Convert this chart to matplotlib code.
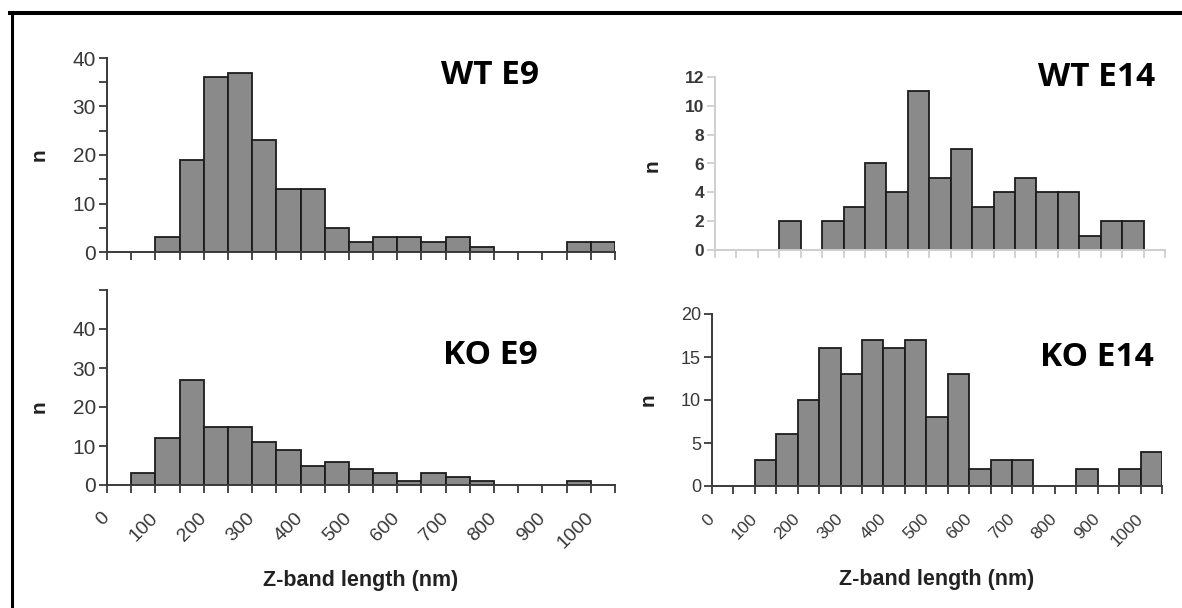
import matplotlib
matplotlib.use("Agg")
import matplotlib.pyplot as plt
from matplotlib.lines import Line2D
from matplotlib.ticker import FixedLocator

# ---------------- data ----------------
bin_width = 50
bin_left = [0, 50, 100, 150, 200, 250, 300, 350, 400, 450, 500,
            550, 600, 650, 700, 750, 800, 850, 900, 950, 1000]
wt_e9 = [0, 0, 3, 19, 36, 37, 23, 13, 13, 5, 2, 3, 3, 2, 3, 1, 0, 0, 0, 2, 2]
wt_e14 = [0, 0, 0, 2, 0, 2, 3, 6, 4, 11, 5, 7, 3, 4, 5, 4, 4, 1, 2, 2, 0]
ko_e9 = [0, 3, 12, 27, 15, 15, 11, 9, 5, 6, 4, 3, 1, 3, 2, 1, 0, 0, 0, 1, 0]
ko_e14 = [0, 0, 3, 6, 10, 16, 13, 17, 16, 17, 8, 13, 2, 3, 3, 0, 0, 2, 0, 2, 4]

x_label_pos = [0, 100, 200, 300, 400, 500, 600, 700, 800, 900, 1000]
x_labels = ["0", "100", "200", "300", "400", "500", "600", "700", "800", "900", "1000"]
x_minor_pos = [50, 150, 250, 350, 450, 550, 650, 750, 850, 950, 1050]

titles = ["WT E9", "WT E14", "KO E9", "KO E14"]
xlabel = "Z-band length (nm)"
ylabel = "n"

W, H = 1182, 608
fig = plt.figure(figsize=(W / 100, H / 100), dpi=100)
fig.patch.set_facecolor("white")


def px_axes(x0, x1, y_top, y_bot):
    return fig.add_axes([x0 / W, 1 - y_bot / H, (x1 - x0) / W, (y_bot - y_top) / H])


BAR_FACE = "#8a8a8a"
BAR_EDGE = "#1c1c1c"
FAM = ["Liberation Sans", "DejaVu Sans"]


def draw(ax, values, ymax, ymajor, ylabels, yminor, axcol, ytick_fs, xtick_fs,
         tick_bold, show_xlabels, n_y, xlab_pad=13):
    lefts = [b for b, v in zip(bin_left, values) if v > 0]
    hts = [v for v in values if v > 0]
    ax.bar(lefts, hts, width=bin_width, align="edge", color=BAR_FACE,
           edgecolor=BAR_EDGE, linewidth=1.3, zorder=3)
    ax.set_xlim(0, 1050)
    ax.set_ylim(0, ymax)
    for s in ["top", "right"]:
        ax.spines[s].set_visible(False)
    for s in ["left", "bottom"]:
        ax.spines[s].set_color(axcol)
        ax.spines[s].set_linewidth(1.4)
        ax.spines[s].set_zorder(4)
    ax.xaxis.set_major_locator(FixedLocator(x_label_pos))
    ax.xaxis.set_minor_locator(FixedLocator(x_minor_pos))
    ax.yaxis.set_major_locator(FixedLocator(ymajor))
    ax.yaxis.set_minor_locator(FixedLocator(yminor))
    ax.set_yticklabels(ylabels)
    weight = "bold" if tick_bold else "normal"
    for lab in ax.get_yticklabels():
        lab.set_fontsize(ytick_fs)
        lab.set_fontweight(weight)
        lab.set_color("#383838")
        lab.set_fontfamily(FAM)
    ax.tick_params(axis="both", which="both", direction="out", length=6,
                   width=1.3, color=axcol)
    ax.tick_params(axis="y", which="both", pad=2)
    if show_xlabels:
        ax.set_xticklabels(x_labels, rotation=45, ha="right", va="center",
                           rotation_mode="anchor", fontsize=xtick_fs,
                           color="#383838", fontweight=weight, family=FAM)
        ax.tick_params(axis="x", which="major", pad=16)
        ax.set_xlabel(xlabel, fontsize=15.5, fontweight="bold", color="#222222",
                      family=FAM, labelpad=xlab_pad)
    else:
        ax.set_xticklabels([])
    ax.set_ylabel(ylabel, fontsize=15, fontweight="bold", color="#222222",
                  family=FAM)
    ax.yaxis.set_label_coords(*n_y)


ax1 = px_axes(107, 615, 58, 252)
draw(ax1, wt_e9, 40, [0, 10, 20, 30, 40], ["0", "10", "20", "30", "40"],
     [5, 15, 25, 35], "#3a3a3a", 15, 13.5, False, False, (-0.114, 0.5))

ax2 = px_axes(715, 1165, 77, 250)
draw(ax2, wt_e14, 12, [0, 2, 4, 6, 8, 10, 12],
     ["0", "2", "4", "6", "8", "10", "12"], [], "#cfcfcf", 12.5, 12.5, True,
     False, (-0.118, 0.49))

ax3 = px_axes(107, 615, 290, 485)
draw(ax3, ko_e9, 50, [0, 10, 20, 30, 40], ["0", "10", "20", "30", "40"],
     [50], "#3a3a3a", 15, 14, False, True, (-0.114, 0.40), xlab_pad=13)

ax4 = px_axes(712, 1162, 314, 486)
draw(ax4, ko_e14, 20, [0, 5, 10, 15, 20], ["0", "5", "10", "15", "20"],
     [], "#3a3a3a", 13, 12.5, False, True, (-0.12, 0.5), xlab_pad=14)

# panel titles
title_pos = [(490, 75), (1097, 78), (490, 355), (1097, 357)]
for t, (px, py) in zip(titles, title_pos):
    fig.text(px / W, 1 - py / H, t, ha="center", va="center", fontsize=24,
             fontweight="bold", color="black",
             family=["Open Sans", "DejaVu Sans"])

# outer frame (top and left edges visible)
fig.add_artist(Line2D([10 / W, 1], [1 - 13 / H, 1 - 13 / H],
                      transform=fig.transFigure, color="black", lw=2.9))
fig.add_artist(Line2D([11.5 / W, 11.5 / W], [1 - 13 / H, 0],
                      transform=fig.transFigure, color="black", lw=2.2))

fig.savefig("out.png", dpi=100, facecolor="white")
